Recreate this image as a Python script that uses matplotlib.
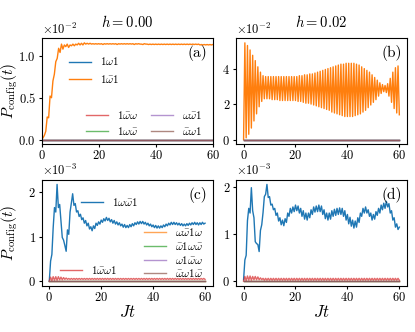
import numpy as np
import matplotlib
matplotlib.use('Agg')
import matplotlib.pyplot as plt

plt.rcParams['font.family'] = 'serif'
plt.rcParams['font.serif'] = ['cmr10']
plt.rcParams['mathtext.fontset'] = 'cm'
plt.rcParams['axes.formatter.use_mathtext'] = True

# time grid, Jt = 0 ... 60 in steps of 0.5
t = np.linspace(0, 60, 121)

# (a) h = 0.00, 1 w-bar 1 population, in units of 1e-2
a_1wb1 = [0.00, 0.02, 0.05, 0.10, 0.27, 0.26, 0.52, 0.50, 0.70, 0.78,
          0.93, 0.97, 1.09, 1.04, 1.14, 1.08, 1.13, 1.11, 1.14, 1.10,
          1.13, 1.12, 1.14, 1.12, 1.14, 1.13, 1.15, 1.13, 1.15, 1.13,
          1.155, 1.14, 1.15, 1.14, 1.15, 1.14, 1.145, 1.14, 1.145, 1.14,
          1.145, 1.14, 1.145, 1.135, 1.145, 1.14, 1.145, 1.14, 1.145, 1.14,
          1.145, 1.14, 1.145, 1.135, 1.145, 1.14, 1.145, 1.14, 1.145, 1.14,
          1.145, 1.14, 1.145, 1.14, 1.145, 1.135, 1.145, 1.14, 1.145, 1.14,
          1.14, 1.135, 1.145, 1.14, 1.14, 1.135, 1.14, 1.135, 1.14, 1.135,
          1.14, 1.135, 1.14, 1.135, 1.14, 1.135, 1.14, 1.135, 1.14, 1.135,
          1.14, 1.135, 1.14, 1.135, 1.14, 1.135, 1.14, 1.135, 1.14, 1.135,
          1.14, 1.135, 1.14, 1.135, 1.14, 1.135, 1.14, 1.135, 1.14, 1.135,
          1.14, 1.13, 1.135, 1.13, 1.135, 1.13, 1.135, 1.13, 1.135, 1.13,
          1.135]

# (b) h = 0.02, 1 w-bar 1 population, in units of 1e-2
b_1wb1 = [0.00, 5.45, 0.10, 5.30, 0.30, 5.05, 0.65, 4.75, 1.05, 4.45,
          1.45, 4.10, 1.85, 3.80, 2.15, 3.60, 2.30, 3.55, 2.30, 3.55,
          2.30, 3.55, 2.25, 3.55, 2.25, 3.55, 2.25, 3.55, 2.20, 3.55,
          2.20, 3.55, 2.20, 3.55, 2.20, 3.55, 2.20, 3.55, 2.20, 3.55,
          2.20, 3.55, 2.15, 3.60, 2.15, 3.60, 2.10, 3.65, 2.05, 3.65,
          2.05, 3.70, 2.00, 3.70, 1.95, 3.75, 1.90, 3.80, 1.85, 3.85,
          1.80, 3.90, 1.75, 3.95, 1.70, 4.00, 1.65, 4.05, 1.55, 4.10,
          1.50, 4.15, 1.45, 4.20, 1.40, 4.25, 1.35, 4.25, 1.30, 4.30,
          1.30, 4.30, 1.30, 4.30, 1.30, 4.30, 1.35, 4.25, 1.40, 4.20,
          1.45, 4.10, 1.55, 4.00, 1.65, 3.90, 1.80, 3.80, 1.95, 3.65,
          2.10, 3.50, 2.25, 3.35, 2.45, 3.20, 2.60, 3.10, 2.70, 3.05,
          2.65, 3.15, 2.45, 3.45, 2.10, 3.80, 1.75, 4.05, 1.50, 4.15,
          1.40]

# (c) h = 0.00, in units of 1e-3
c_1wwb1 = [0.00, 0.45, 0.60, 1.20, 1.65, 1.55, 2.17, 1.65, 1.72, 1.35,
           0.98, 0.92, 0.80, 0.67, 1.15, 1.05, 1.55, 1.75, 1.96, 1.70,
           1.74, 1.55, 1.58, 1.45, 1.50, 1.38, 1.42, 1.30, 1.36, 1.24,
           1.30, 1.17, 1.22, 1.13, 1.24, 1.18, 1.30, 1.25, 1.33, 1.28,
           1.37, 1.32, 1.40, 1.35, 1.43, 1.36, 1.41, 1.33, 1.38, 1.30,
           1.36, 1.28, 1.33, 1.26, 1.31, 1.24, 1.28, 1.21, 1.27, 1.20,
           1.25, 1.20, 1.27, 1.22, 1.29, 1.24, 1.31, 1.27, 1.33, 1.28,
           1.34, 1.29, 1.34, 1.28, 1.32, 1.26, 1.30, 1.24, 1.28, 1.22,
           1.26, 1.20, 1.25, 1.19, 1.24, 1.19, 1.24, 1.20, 1.26, 1.22,
           1.28, 1.24, 1.30, 1.26, 1.32, 1.27, 1.32, 1.27, 1.31, 1.26,
           1.30, 1.25, 1.29, 1.24, 1.28, 1.24, 1.29, 1.25, 1.30, 1.26,
           1.31, 1.27, 1.32, 1.27, 1.31, 1.26, 1.31, 1.27, 1.32, 1.28,
           1.30]
c_1wbw1 = [0.00, 0.09, 0.01, 0.10, 0.02, 0.10, 0.02, 0.10, 0.03, 0.09,
           0.03, 0.08, 0.04, 0.07, 0.04, 0.06, 0.04, 0.06, 0.04, 0.06,
           0.04, 0.06, 0.04, 0.06, 0.04, 0.06, 0.04, 0.06, 0.04, 0.06,
           0.04, 0.06, 0.04, 0.06, 0.04, 0.06, 0.04, 0.06, 0.04, 0.06,
           0.04, 0.06, 0.04, 0.06, 0.04, 0.06, 0.04, 0.06, 0.04, 0.06,
           0.04, 0.06, 0.04, 0.06, 0.04, 0.06, 0.04, 0.06, 0.04, 0.06,
           0.04, 0.06, 0.04, 0.06, 0.04, 0.06, 0.04, 0.06, 0.04, 0.06,
           0.04, 0.06, 0.04, 0.06, 0.04, 0.06, 0.04, 0.06, 0.04, 0.06,
           0.04, 0.06, 0.04, 0.06, 0.04, 0.06, 0.04, 0.06, 0.04, 0.06,
           0.04, 0.06, 0.04, 0.06, 0.04, 0.06, 0.04, 0.06, 0.04, 0.06,
           0.04, 0.06, 0.04, 0.06, 0.04, 0.06, 0.04, 0.06, 0.04, 0.06,
           0.04, 0.06, 0.04, 0.06, 0.04, 0.06, 0.04, 0.06, 0.04, 0.06,
           0.04]

# (d) h = 0.02, in units of 1e-3
d_1wwb1 = [0.03, 0.45, 0.55, 1.29, 1.55, 1.45, 1.99, 1.50, 1.35, 0.84,
           0.80, 0.78, 0.63, 1.08, 1.20, 1.46, 1.80, 1.85, 2.06, 1.78,
           1.80, 1.62, 1.64, 1.52, 1.55, 1.40, 1.45, 1.28, 1.35, 1.20,
           1.30, 1.18, 1.33, 1.25, 1.45, 1.38, 1.55, 1.45, 1.58, 1.48,
           1.62, 1.50, 1.60, 1.45, 1.55, 1.38, 1.50, 1.32, 1.45, 1.30,
           1.45, 1.35, 1.52, 1.42, 1.58, 1.47, 1.60, 1.48, 1.62, 1.48,
           1.60, 1.42, 1.52, 1.33, 1.45, 1.30, 1.45, 1.32, 1.50, 1.38,
           1.53, 1.40, 1.55, 1.42, 1.56, 1.42, 1.55, 1.38, 1.50, 1.30,
           1.42, 1.22, 1.36, 1.17, 1.30, 1.13, 1.28, 1.15, 1.35, 1.25,
           1.45, 1.38, 1.55, 1.45, 1.58, 1.45, 1.52, 1.38, 1.45, 1.30,
           1.42, 1.32, 1.48, 1.40, 1.55, 1.45, 1.62, 1.52, 1.66, 1.55,
           1.70, 1.58, 1.65, 1.45, 1.50, 1.30, 1.35, 1.15, 1.22, 1.10,
           1.15]
d_1wbw1 = [0.00, 0.10, 0.01, 0.11, 0.02, 0.11, 0.02, 0.10, 0.03, 0.10,
           0.03, 0.09, 0.03, 0.07, 0.03, 0.06, 0.02, 0.06, 0.02, 0.06,
           0.02, 0.06, 0.02, 0.06, 0.02, 0.06, 0.02, 0.06, 0.02, 0.06,
           0.02, 0.06, 0.02, 0.06, 0.02, 0.06, 0.02, 0.06, 0.02, 0.06,
           0.02, 0.06, 0.02, 0.06, 0.02, 0.06, 0.02, 0.06, 0.02, 0.06,
           0.02, 0.06, 0.02, 0.06, 0.02, 0.06, 0.02, 0.06, 0.02, 0.06,
           0.02, 0.06, 0.02, 0.06, 0.02, 0.06, 0.02, 0.06, 0.02, 0.06,
           0.02, 0.06, 0.02, 0.06, 0.02, 0.06, 0.02, 0.06, 0.02, 0.06,
           0.02, 0.06, 0.02, 0.06, 0.02, 0.06, 0.02, 0.06, 0.02, 0.06,
           0.02, 0.06, 0.02, 0.06, 0.02, 0.06, 0.02, 0.06, 0.02, 0.06,
           0.02, 0.06, 0.02, 0.06, 0.02, 0.06, 0.02, 0.06, 0.02, 0.06,
           0.02, 0.06, 0.02, 0.06, 0.02, 0.06, 0.02, 0.06, 0.02, 0.06,
           0.02]

# configurations that stay empty
zero = np.zeros(len(t))

top_labels = [r'$1\omega1$', r'$1\bar{\omega}1$', r'$1\omega\bar{\omega}$',
              r'$1\bar{\omega}\omega$', r'$\omega\bar{\omega}1$', r'$\bar{\omega}\omega1$']
bot_labels = [r'$1\omega\bar{\omega}1$', r'$\omega\bar{\omega}1\omega$',
              r'$\bar{\omega}1\omega\bar{\omega}$', r'$1\bar{\omega}\omega1$',
              r'$\omega1\bar{\omega}\omega$', r'$\bar{\omega}\omega1\bar{\omega}$']
titles = [r'$h=0.00$', r'$h=0.02$']
panel = ['(a)', '(b)', '(c)', '(d)']

fig, axs = plt.subplots(2, 2, figsize=(4.15, 3.32), dpi=100)
fig.subplots_adjust(left=0.1, right=0.981, top=0.8855, bottom=0.1386,
                    wspace=0.134, hspace=0.33)

lw = 1.0
al = 0.7

# top row
for j, (ax, main) in enumerate(zip(axs[0], [a_1wb1, b_1wb1])):
    l0, = ax.plot(t, zero, color='C0', lw=lw, label=top_labels[0])
    l1, = ax.plot(t, np.array(main) * 1e-2, color='C1', lw=lw, label=top_labels[1])
    l2, = ax.plot(t, zero, color='C2', lw=lw, alpha=al, label=top_labels[2])
    l3, = ax.plot(t, zero, color='C3', lw=lw, alpha=al, label=top_labels[3])
    l4, = ax.plot(t, zero, color='C4', lw=lw, alpha=al, label=top_labels[4])
    l5, = ax.plot(t, zero, color='C5', lw=lw, alpha=al, label=top_labels[5])
    ax.set_title(titles[j], fontsize=10.5, pad=8)
    if j == 0:
        ax.set_xlim(0, 60)
        leg1 = ax.legend(handles=[l0, l1], loc='upper left', bbox_to_anchor=(0.1, 0.93),
                         frameon=False, fontsize=8)
        ax.add_artist(leg1)
        ax.legend(handles=[l3, l2, l4, l5], loc='lower right', bbox_to_anchor=(1.0, -0.02),
                  ncol=2, frameon=False, fontsize=8, columnspacing=1.2, labelspacing=0.35)

# bottom row
for j, (ax, blue, red) in enumerate(zip(axs[1], [c_1wwb1, d_1wwb1], [c_1wbw1, d_1wbw1])):
    m0, = ax.plot(t, np.array(blue) * 1e-3, color='C0', lw=lw, label=bot_labels[0])
    m1, = ax.plot(t, zero, color='C1', lw=lw, alpha=al, label=bot_labels[1])
    m2, = ax.plot(t, zero, color='C2', lw=lw, alpha=al, label=bot_labels[2])
    m3, = ax.plot(t, np.array(red) * 1e-3, color='C3', lw=lw, alpha=al, label=bot_labels[3])
    m4, = ax.plot(t, zero, color='C4', lw=lw, alpha=al, label=bot_labels[4])
    m5, = ax.plot(t, zero, color='C5', lw=lw, alpha=al, label=bot_labels[5])
    ax.set_xlabel(r'$Jt$', fontsize=12, labelpad=0)
    if j == 0:
        lg1 = ax.legend(handles=[m0], loc='upper left', bbox_to_anchor=(0.17, 0.94),
                        frameon=False, fontsize=8)
        ax.add_artist(lg1)
        lg2 = ax.legend(handles=[m3], loc='lower left', bbox_to_anchor=(0.05, 0.0),
                        frameon=False, fontsize=8)
        ax.add_artist(lg2)
        ax.legend(handles=[m1, m2, m4, m5], loc='lower right', bbox_to_anchor=(1.0, -0.03),
                  frameon=False, fontsize=8, labelspacing=0.15)

for i, ax in enumerate(axs.flat):
    ax.ticklabel_format(axis='y', style='sci', scilimits=(0, 0))
    ax.tick_params(labelsize=9, length=2.5, pad=1.5)
    ax.tick_params(axis='x', pad=1.0)
    ax.yaxis.get_offset_text().set_fontsize(9)
    ax.set_xticks([0, 20, 40, 60])
    ax.text(0.97, 0.93, panel[i], transform=ax.transAxes, ha='right', va='top', fontsize=11)

for ax in axs[:, 0]:
    ax.set_ylabel(r'$P_{\rm config}(t)$', fontsize=11)
    ax.yaxis.set_label_coords(-0.125, 0.5)

fig.savefig('out.png', dpi=100)
